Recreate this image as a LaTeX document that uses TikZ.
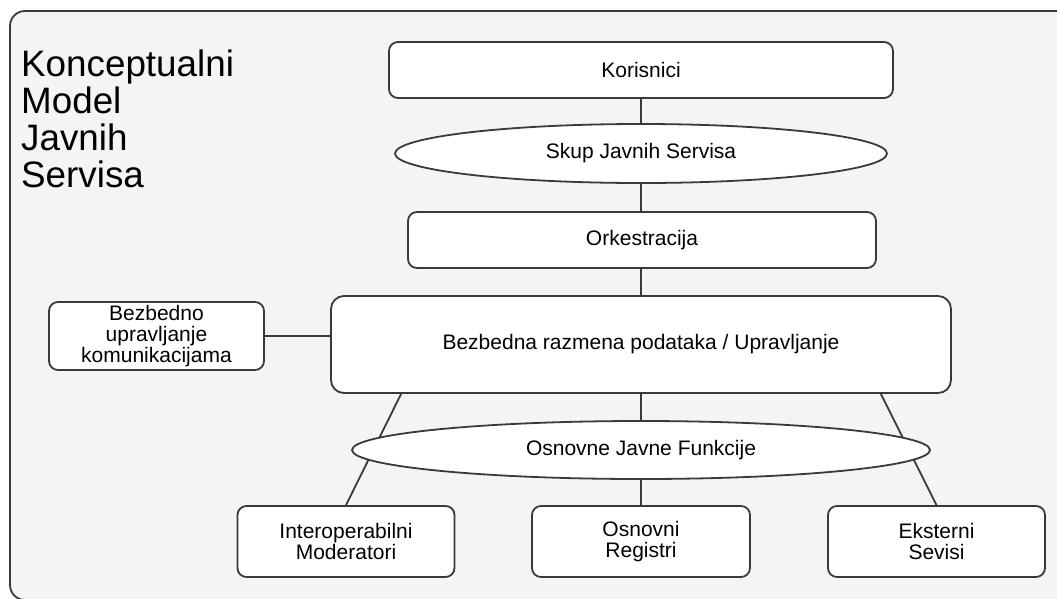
\documentclass[tikz,border=0pt]{standalone}
\usepackage{fontspec}
\setmainfont{Liberation Sans}
\usetikzlibrary{shapes.geometric,calc}
\definecolor{ink}{HTML}{3A3A3A}
\definecolor{panel}{HTML}{F4F4F4}
\pgfdeclarelayer{bg}
\pgfdeclarelayer{edges}
\pgfsetlayers{bg,edges,main}
\tikzset{
  lbl/.style={font=\fontsize{21}{21}\selectfont, text=black, align=center},
  box/.style={lbl, draw=ink, line width=1.8pt, fill=white, rounded corners=9pt,
              inner sep=0pt},
  oval/.style={lbl, ellipse, draw=ink, line width=1.8pt, fill=white, inner sep=0pt},
  link/.style={draw=ink, line width=1.8pt},
}
\begin{document}
\begin{tikzpicture}[x=1pt,y=-1pt]
\useasboundingbox (0,0) rectangle (1057,598);

% panel behind the model
\begin{pgfonlayer}{bg}
  \fill[white] (0,0) rectangle (1057,598);
  \begin{scope}
    \clip (0,0) rectangle (1057,598);
    \draw[draw=ink, line width=1.8pt, fill=panel, rounded corners=15pt]
      (10,11) rectangle (1075,600);
  \end{scope}
\end{pgfonlayer}

% title
\node[anchor=north west, inner sep=0pt, align=left,
      font=\fontsize{36.8}{37}\selectfont] (title) at (21,50)
  {Konceptualni\\Model\\Javnih\\Servisa};

% main column
\node[box, minimum width=504pt, minimum height=56pt] (kor) at (641,70) {Korisnici};
\node[oval, minimum width=492pt, minimum height=59pt] (skup) at (641,153.5) {Skup Javnih Servisa};
\node[box, minimum width=468pt, minimum height=56pt] (ork) at (642,240) {Orkestracija};
\node[box, rounded corners=13pt, minimum width=620pt, minimum height=97pt] (bez) at (641,344.5)
  {Bezbedna razmena podataka / Upravljanje};
\node[box, minimum width=215pt, minimum height=68pt] (upr) at (156.5,336)
  {Bezbedno\\upravljanje\\komunikacijama};
\node[oval, minimum width=578pt, minimum height=58pt] (osn) at (641,450) {Osnovne Javne Funkcije};

% bottom row
\node[box, minimum width=217pt, minimum height=71pt] (iop) at (346,541.5)
  {Interoperabilni\\Moderatori};
\node[box, minimum width=218pt, minimum height=71pt] (reg) at (641,541.5)
  {Osnovni\\Registri};
\node[box, minimum width=217pt, minimum height=71pt] (eks) at (936.5,541.5)
  {Eksterni\\Sevisi};

% connectors
\begin{pgfonlayer}{edges}
  \draw[link] (kor.south) -- (skup.north);
  \draw[link] (skup.south) -- (ork.south -| skup.south);
  \draw[link] (ork.south -| bez.north) -- (bez.north);
  \draw[link] (upr.east) -- (upr.east -| bez.west);
  \draw[link] (bez.south) -- (osn.north);
  \draw[link] (osn.south) -- (reg.north);
  \draw[link] ($(bez.south west)+(71,0)$) -- (iop.north);
  \draw[link] ($(bez.south east)+(-71,0)$) -- (eks.north);
\end{pgfonlayer}
\end{tikzpicture}
\end{document}
